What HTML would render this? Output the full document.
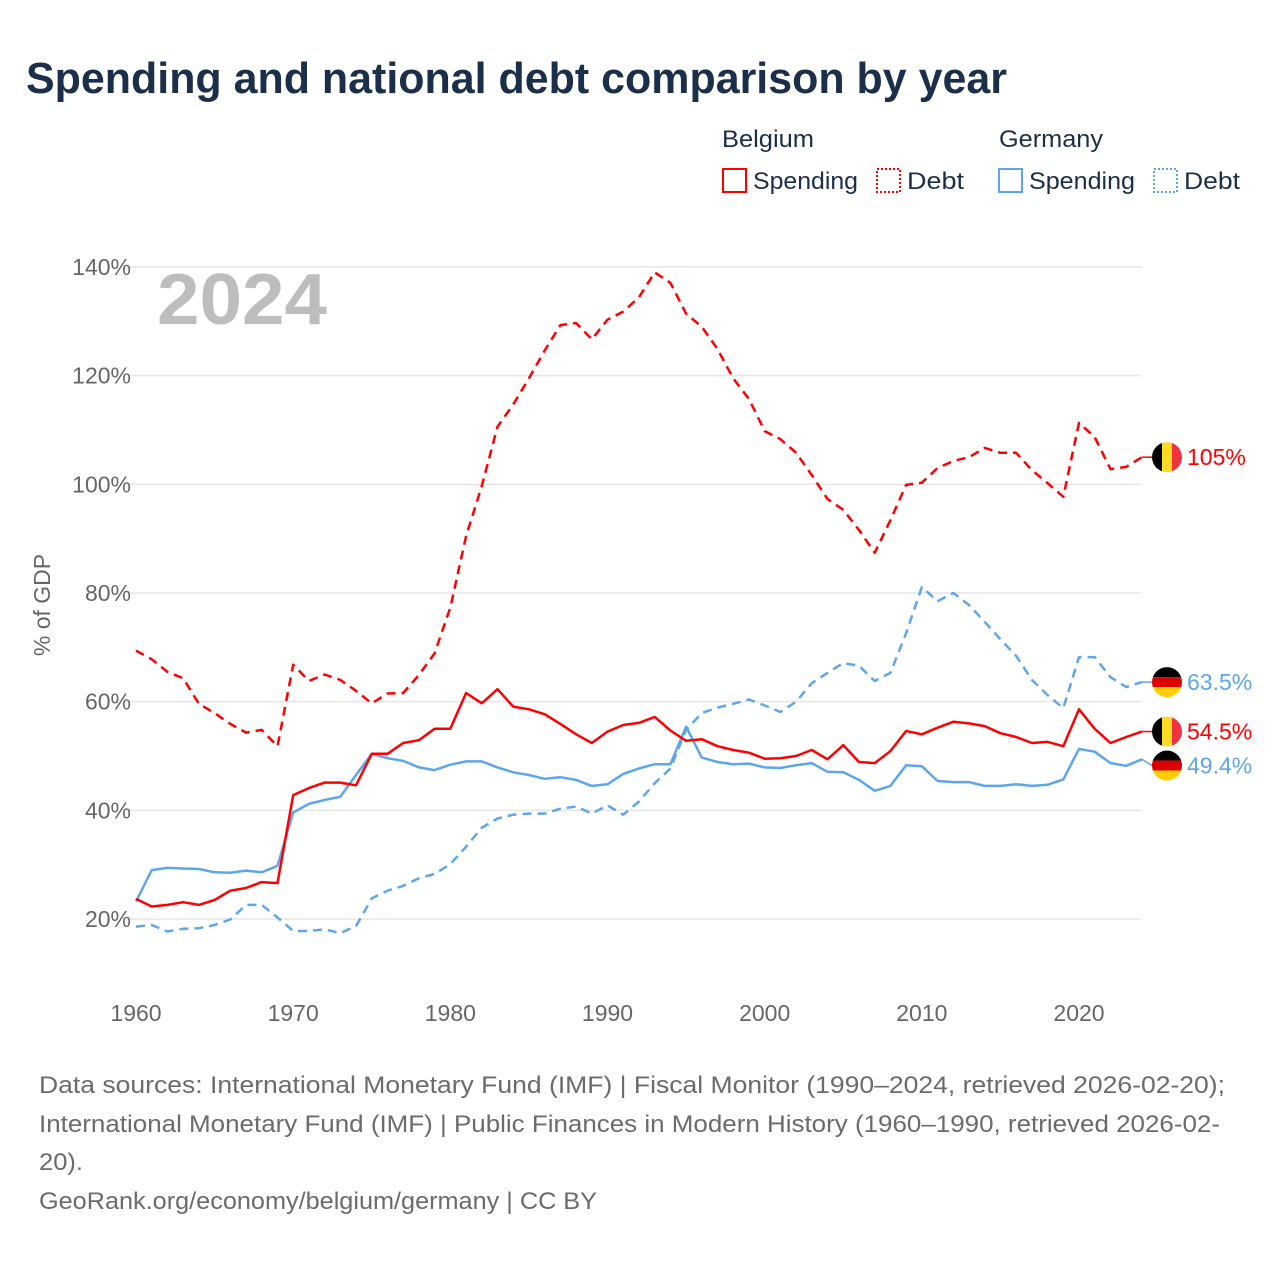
<!DOCTYPE html>
<html><head><meta charset="utf-8"><style>
body{margin:0;background:#fff;}
svg text{font-family:"Liberation Sans",sans-serif;}
</style></head><body>
<svg id="chart" width="1280" height="1280" viewBox="0 0 1280 1280" xmlns="http://www.w3.org/2000/svg">
<rect width="1280" height="1280" fill="#fff"/>
<text x="26" y="93" font-size="44" font-weight="bold" fill="#1b2f4b" textLength="981" lengthAdjust="spacingAndGlyphs">Spending and national debt comparison by year</text>
<g>
<text x="722" y="147" font-size="24" fill="#1b2f4b" textLength="92" lengthAdjust="spacingAndGlyphs">Belgium</text>
<text x="999" y="147" font-size="24" fill="#1b2f4b" textLength="104" lengthAdjust="spacingAndGlyphs">Germany</text>
<g><rect x="723" y="169" width="23" height="23" fill="none" stroke="#f00" stroke-width="2"/><text x="753" y="189" font-size="24" fill="#1b2f4b" textLength="105" lengthAdjust="spacingAndGlyphs">Spending</text></g>
<g><rect x="877" y="169" width="23" height="23" fill="none" stroke="#f00" stroke-width="2" stroke-dasharray="2,2"/><text x="907" y="189" font-size="24" fill="#1b2f4b" textLength="57" lengthAdjust="spacingAndGlyphs">Debt</text></g>
<g><rect x="999" y="169" width="23" height="23" fill="none" stroke="#5ea6ec" stroke-width="2"/><text x="1029" y="189" font-size="24" fill="#1b2f4b" textLength="106" lengthAdjust="spacingAndGlyphs">Spending</text></g>
<g><rect x="1154" y="169" width="23" height="23" fill="none" stroke="#5ea6ec" stroke-width="2" stroke-dasharray="2,2"/><text x="1184" y="189" font-size="24" fill="#1b2f4b" textLength="56" lengthAdjust="spacingAndGlyphs">Debt</text></g>
</g>
<g id="grid"></g>
<text x="157" y="324" font-size="72" font-weight="bold" fill="#bdbdbd" textLength="170" lengthAdjust="spacingAndGlyphs">2024</text>
<text transform="translate(50,605) rotate(-90)" text-anchor="middle" font-size="23" fill="#666">% of GDP</text>
<g id="lines"></g>
<g id="ends"></g>
<g font-size="24" fill="#6b6b6b">
<text x="39" y="1093" textLength="1186" lengthAdjust="spacingAndGlyphs">Data sources: International Monetary Fund (IMF) | Fiscal Monitor (1990–2024, retrieved 2026-02-20);</text>
<text x="39" y="1132" textLength="1181" lengthAdjust="spacingAndGlyphs">International Monetary Fund (IMF) | Public Finances in Modern History (1960–1990, retrieved 2026-02-</text>
<text x="39" y="1170" textLength="44" lengthAdjust="spacingAndGlyphs">20).</text>
<text x="39" y="1209" textLength="558" lengthAdjust="spacingAndGlyphs">GeoRank.org/economy/belgium/germany | CC BY</text>
</g>
</svg>
<script>
const years=[];for(let y=1960;y<=2024;y++)years.push(y);
const yTicks=[20,40,60,80,100,120,140];
const xTicks=[1960,1970,1980,1990,2000,2010,2020];
const belgiumSpending=[23.7,22.3,22.6,23.1,22.6,23.5,25.2,25.7,26.8,26.6,42.8,44.1,45.1,45.1,44.6,50.4,50.4,52.4,52.9,55,55,61.6,59.7,62.3,59.1,58.6,57.7,55.9,54,52.4,54.5,55.7,56.1,57.2,54.7,52.8,53.1,51.8,51.1,50.6,49.5,49.6,50,51.1,49.4,52,48.9,48.7,50.9,54.6,54,55.2,56.3,56,55.5,54.2,53.5,52.4,52.6,51.8,58.6,55,52.4,53.5,54.5];
const belgiumDebt=[69.4,67.8,65.5,64.3,59.6,57.9,55.9,54.3,54.8,51.8,66.8,63.8,65,64,62,59.7,61.5,61.6,64.9,68.9,77.3,90.5,99.7,110.6,114.7,119.5,124.6,129.3,129.7,126.7,130.3,131.8,134.4,139,137.1,131.4,129,124.9,119.5,115.7,109.8,108.3,105.8,101.7,97.3,95.3,91.6,87.4,93.4,99.9,100.3,103,104.3,105,106.7,105.8,105.8,102.6,100.2,97.7,111.3,108.7,102.8,103.2,105];
const germanySpending=[23.2,29,29.4,29.3,29.2,28.6,28.5,28.9,28.6,29.8,39.6,41.2,41.9,42.5,46.5,50.4,49.6,49.1,47.9,47.4,48.4,49,49,47.9,47,46.5,45.8,46.1,45.6,44.5,44.8,46.7,47.7,48.5,48.5,55.4,49.7,48.9,48.5,48.6,47.9,47.8,48.3,48.7,47.1,47,45.6,43.6,44.5,48.3,48.1,45.4,45.2,45.2,44.5,44.5,44.8,44.5,44.7,45.7,51.3,50.8,48.7,48.2,49.4];
const germanyDebt=[18.6,18.9,17.7,18.2,18.3,18.9,19.9,22.6,22.6,20.3,17.8,17.8,18.1,17.4,18.7,23.8,25.2,26.1,27.5,28.3,30.1,33.3,36.8,38.5,39.2,39.4,39.4,40.3,40.7,39.4,40.9,39.2,41.6,45,47.7,54.8,57.9,58.9,59.6,60.4,59.3,58.1,60,63.4,65.3,67.1,66.6,63.8,65.3,72.6,81.1,78.5,80,77.8,74.7,71.5,68.4,64,61.2,58.8,68.2,68.2,64.5,62.7,63.6];
const endLabels=["54.5%","105%","49.4%","63.5%"];

const NS="http://www.w3.org/2000/svg";
const X=y=>136+(y-1960)*15.717;
const Y=v=>919-(v-20)*5.4333;
function mk(tag,attrs,parent){const e=document.createElementNS(NS,tag);for(const k in attrs)e.setAttribute(k,attrs[k]);parent.appendChild(e);return e;}
const grid=document.getElementById('grid');
yTicks.forEach(t=>{
  const l=mk('line',{x1:127,x2:1141,y1:Y(t),y2:Y(t),stroke:'#e6e6e6','stroke-width':1.5},grid);
  
  
  const tx=mk('text',{x:131,y:Y(t)+8,'text-anchor':'end','font-size':23,fill:'#666'},grid);
  tx.textContent=t+'%';
  
  
});
xTicks.forEach(t=>{
  const tx=mk('text',{x:X(t),y:1021,'text-anchor':'middle','font-size':23,fill:'#666'},grid);
  tx.textContent=t;
  
  
});
const lines=document.getElementById('lines');
const series=[
 {d:germanyDebt,c:'#5ea6ec',dash:'9,6',n:'germany-debt-line'},
 {d:germanySpending,c:'#5ea6ec',dash:'',n:'germany-spending-line'},
 {d:belgiumDebt,c:'#f00',dash:'9,6',n:'belgium-debt-line'},
 {d:belgiumSpending,c:'#f00',dash:'',n:'belgium-spending-line'}];
series.forEach(s=>{
  const p=mk('polyline',{points:s.d.map((v,i)=>X(years[i]).toFixed(1)+','+Y(v).toFixed(1)).join(' '),fill:'none',stroke:s.c,'stroke-width':2.5,'stroke-dasharray':s.dash,'stroke-linejoin':'round'},lines);
  
  
});
const ends=document.getElementById('ends');
const last=a=>a[a.length-1];
const markers=[
 {v:last(belgiumSpending),c:'#f00',flag:'be',lab:endLabels[0],n:'belgium-spending'},
 {v:last(belgiumDebt),c:'#f00',flag:'be',lab:endLabels[1],n:'belgium-debt'},
 {v:last(germanySpending),c:'#5ea6ec',flag:'de',lab:endLabels[2],n:'germany-spending'},
 {v:last(germanyDebt),c:'#5ea6ec',flag:'de',lab:endLabels[3],n:'germany-debt'}];
let ys=markers.map(m=>Y(m.v));
const order=ys.map((y,i)=>i).sort((a,b)=>ys[a]-ys[b]);
for(let k=1;k<order.length;k++){const a=order[k-1],b=order[k];if(ys[b]-ys[a]<34)ys[b]=ys[a]+34;}
const defs=mk('defs',{},ends);
markers.forEach((m,i)=>{
  const cy=ys[i],cx=1167,r=15;
  const g=mk('g',{},ends);
  
  
  mk('line',{x1:X(2024),x2:cx-r,y1:Y(m.v),y2:cy,stroke:m.c,'stroke-width':1.5},g);
  const cp=mk('clipPath',{id:'cp'+i},defs);
  mk('circle',{cx:cx,cy:cy,r:r},cp);
  const f=mk('g',{'clip-path':'url(#cp'+i+')'},g);
  if(m.flag==='be'){
    mk('rect',{x:cx-r,y:cy-r,width:10,height:30,fill:'#000'},f);
    mk('rect',{x:cx-5,y:cy-r,width:10,height:30,fill:'#fdda24'},f);
    mk('rect',{x:cx+5,y:cy-r,width:10,height:30,fill:'#ef3340'},f);
  }else{
    mk('rect',{x:cx-r,y:cy-r,width:30,height:10,fill:'#000'},f);
    mk('rect',{x:cx-r,y:cy-5,width:30,height:10,fill:'#dd0000'},f);
    mk('rect',{x:cx-r,y:cy+5,width:30,height:10,fill:'#ffce00'},f);
  }
  const t=mk('text',{x:1187,y:cy+8,'font-size':23,fill:m.c},g);
  t.textContent=m.lab;
});
</script>
</body></html>
